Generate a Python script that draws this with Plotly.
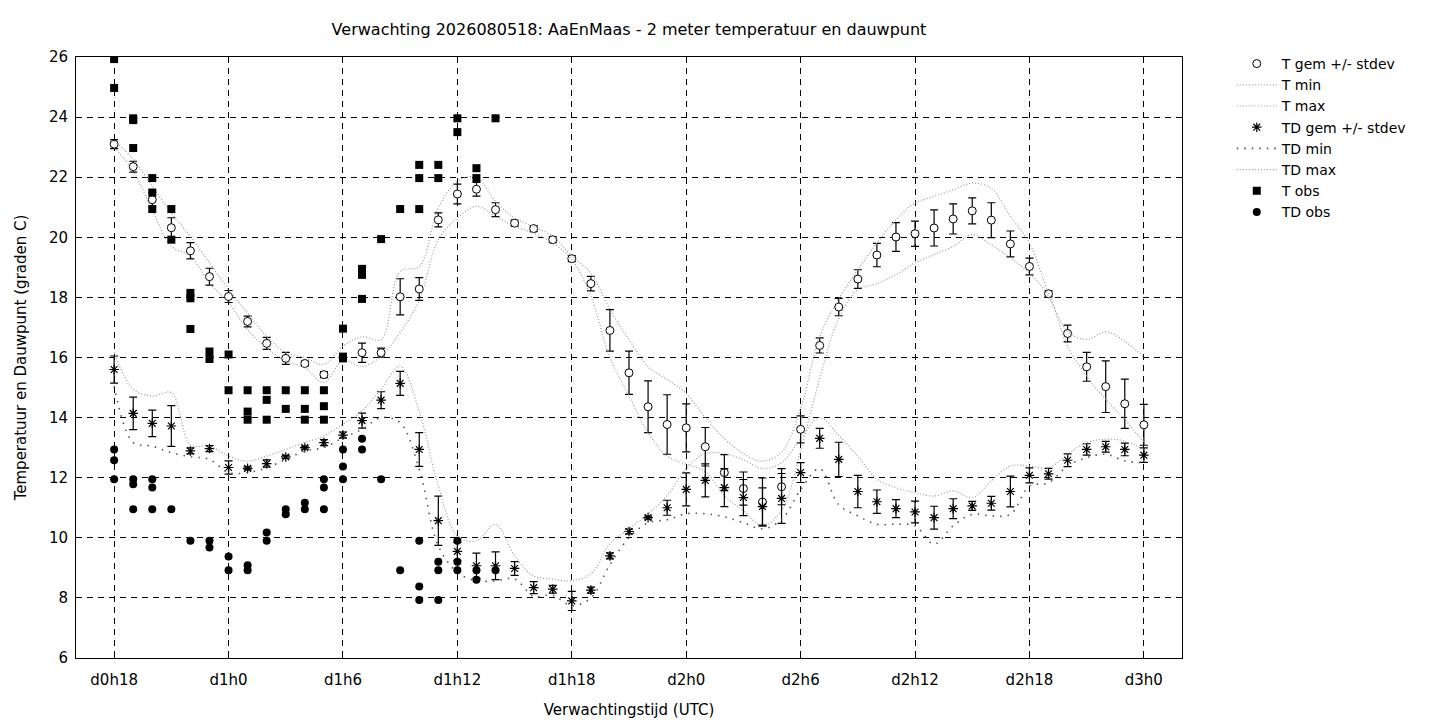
import plotly.graph_objects as go

# forecast hours since d0h0 (d0h18 .. d3h0)
hours = list(range(18, 73))
tick_hours = [18, 24, 30, 36, 42, 48, 54, 60, 66, 72]
tick_labels = ["d0h18", "d1h0", "d1h6", "d1h12", "d1h18",
               "d2h0", "d2h6", "d2h12", "d2h18", "d3h0"]

# ensemble temperature
t_mean = [23.1, 22.35, 21.25, 20.32, 19.55, 18.69, 18.03, 17.2, 16.47, 15.97, 15.8, 15.43,
          16.0, 16.16, 16.16, 18.02, 18.28, 20.58, 21.44, 21.6, 20.92, 20.47, 20.29, 19.92,
          19.29, 18.46, 16.9, 15.49, 14.36, 13.77, 13.66, 13.03, 12.17, 11.64, 11.19, 11.7,
          13.61, 16.4, 17.68, 18.61, 19.41, 20.01, 20.12, 20.31, 20.61, 20.88, 20.57, 19.78,
          19.03, 18.12, 16.8, 15.69, 15.03, 14.46, 13.76]
t_sd = [0.15, 0.18, 0.25, 0.33, 0.27, 0.28, 0.2, 0.18, 0.2, 0.2, 0.08, 0.1,
        0.1, 0.32, 0.15, 0.6, 0.38, 0.23, 0.33, 0.23, 0.23, 0.1, 0.1, 0.1,
        0.1, 0.24, 0.69, 0.72, 0.86, 0.99, 0.8, 0.64, 0.6, 0.55, 0.8, 0.6,
        0.45, 0.25, 0.29, 0.31, 0.39, 0.48, 0.42, 0.6, 0.5, 0.43, 0.58, 0.43,
        0.28, 0.1, 0.28, 0.48, 0.86, 0.82, 0.68]
t_min = [23.0, 22.2, 20.9, 19.7, 19.37, 18.48, 17.82, 16.93, 16.32, 15.88, 15.66, 15.17,
         15.9, 15.7, 16.04, 16.83, 17.9, 19.92, 20.64, 21.03, 20.7, 20.36, 20.14, 19.81,
         19.26, 18.04, 16.0, 14.72, 13.5, 12.72, 12.45, 12.2, 11.4, 10.9, 10.4, 10.9,
         12.9, 15.3, 17.3, 18.26, 18.46, 18.76, 19.15, 19.42, 19.7, 20.09, 19.75, 19.31,
         18.81, 18.04, 16.38, 15.38, 14.6, 13.94, 13.17]
t_max = [23.2, 22.6, 21.7, 20.81, 20.03, 19.15, 18.26, 17.48, 16.71, 16.16, 16.0, 15.77,
         16.38, 16.69, 16.6, 18.87, 19.03, 20.97, 21.86, 22.0, 21.2, 20.64, 20.36, 20.03,
         19.37, 18.8, 17.6, 16.6, 15.7, 15.27, 14.8, 14.0, 13.3, 12.8, 12.55, 12.85,
         14.3, 16.7, 17.95, 18.92, 19.81, 20.58, 21.14, 21.36, 21.58, 21.8, 21.63, 20.69,
         19.81, 18.15, 16.87, 16.6, 16.85, 16.54, 16.0]

# ensemble dew point
td_mean = [15.6, 14.14, 13.81, 13.72, 12.89, 12.97, 12.34, 12.31, 12.47, 12.69, 13.0, 13.17,
           13.42, 13.9, 14.58, 15.14, 12.94, 10.57, 9.55, 9.07, 9.07, 8.98, 8.34, 8.29,
           7.9, 8.26, 9.4, 10.21, 10.67, 11.0, 11.61, 11.91, 11.67, 11.34, 11.04, 11.31,
           12.17, 13.31, 12.61, 11.54, 11.2, 10.97, 10.86, 10.67, 10.97, 11.06, 11.15, 11.54,
           12.08, 12.13, 12.58, 12.94, 13.03, 12.94, 12.75]
td_sd = [0.45, 0.54, 0.44, 0.68, 0.1, 0.1, 0.22, 0.05, 0.12, 0.05, 0.05, 0.1,
         0.1, 0.25, 0.28, 0.4, 0.56, 0.82, 0.3, 0.42, 0.46, 0.23, 0.2, 0.13,
         0.32, 0.1, 0.1, 0.08, 0.05, 0.25, 0.55, 0.55, 0.63, 0.6, 0.62, 0.83,
         0.33, 0.33, 0.57, 0.54, 0.39, 0.3, 0.36, 0.38, 0.33, 0.15, 0.23, 0.51,
         0.25, 0.18, 0.21, 0.19, 0.18, 0.21, 0.24]
td_min = [15.05, 13.17, 13.05, 12.83, 12.7, 12.61, 12.17, 12.17, 12.33, 12.61, 12.89, 13.0,
          13.33, 13.61, 14.0, 13.83, 12.28, 9.73, 8.85, 8.57, 8.57, 8.63, 8.05, 8.09,
          7.74, 8.0, 9.1, 10.0, 10.5, 10.6, 10.8, 10.8, 10.7, 10.5, 10.3, 10.6,
          11.6, 12.3, 11.1, 10.73, 10.45, 10.45, 10.4, 9.79, 10.4, 10.78, 10.73, 10.78,
          11.72, 11.83, 12.39, 12.67, 12.78, 12.56, 12.5]
td_max = [16.17, 14.94, 14.72, 14.83, 13.1, 13.05, 12.72, 12.55, 12.72, 12.94, 13.17, 13.39,
          13.78, 14.22, 14.94, 15.71, 14.2, 11.72, 10.06, 9.9, 10.45, 9.4, 8.73, 8.62,
          8.57, 8.8, 9.8, 10.3, 10.8, 11.4, 12.3, 12.8, 12.8, 12.6, 12.3, 12.5,
          13.3, 14.0, 13.4, 12.72, 11.95, 11.67, 11.5, 11.39, 11.56, 11.34, 11.89, 12.39,
          12.39, 12.33, 12.78, 13.17, 13.28, 13.22, 12.94]

# observations, per hour (d0h18 .. d1h14)
obs_hours = list(range(18, 39))
t_obs = [[25.93, 24.97], [23.96, 23.9, 22.97], [21.97, 21.49, 20.94], [20.94, 19.92],
         [18.15, 17.97, 16.95], [16.2, 15.95], [16.1, 14.91], [14.91, 14.2, 13.93],
         [14.91, 14.59, 13.93], [14.91, 14.29], [14.91, 14.29, 13.93], [14.91, 14.38, 13.93],
         [16.96, 16.03, 15.97], [18.95, 18.75, 17.95], [19.94], [20.94],
         [22.41, 21.97, 20.94], [22.41, 21.97], [23.96, 23.5], [22.3, 21.97], [23.96]]
td_obs = [[12.94, 12.58, 11.95], [11.95, 11.78, 10.95], [11.95, 11.67, 10.95], [10.95],
          [9.9], [9.9, 9.68], [9.38, 8.92], [9.09, 8.92], [10.18, 9.9], [10.95, 10.78],
          [11.17, 10.95], [11.95, 11.67, 10.95], [12.94, 12.37, 11.95], [13.3, 12.94],
          [11.95], [8.92], [9.9, 8.38, 7.93], [9.2, 8.92, 7.93], [9.9, 9.2, 8.92],
          [8.92, 8.6], [8.92]]


def flat(hrs, vals):
    xs, ys = [], []
    for h, vs in zip(hrs, vals):
        for v in vs:
            xs.append(h)
            ys.append(v)
    return xs, ys


FONT = "DejaVu Sans"
LIGHT = "#9a9a9a"

fig = go.Figure()
err = dict(type="data", visible=True, thickness=1.2, width=4, color="black")
fine_dot = dict(color=LIGHT, width=1.2, dash="1px,2px", shape="spline")

fig.add_trace(go.Scatter(
    x=hours, y=t_mean, mode="markers", name="T gem +/- stdev",
    marker=dict(symbol="circle", size=8, color="white",
                line=dict(color="black", width=1)),
    error_y=dict(array=t_sd, **err)))
fig.add_trace(go.Scatter(x=hours, y=t_min, mode="lines", name="T min", line=fine_dot))
fig.add_trace(go.Scatter(x=hours, y=t_max, mode="lines", name="T max", line=fine_dot))
fig.add_trace(go.Scatter(
    x=hours, y=td_mean, mode="markers", name="TD gem +/- stdev",
    marker=dict(symbol="asterisk-open", size=8, color="black",
                line=dict(color="black", width=1.2)),
    error_y=dict(array=td_sd, **err)))
fig.add_trace(go.Scatter(x=hours, y=td_min, mode="lines", name="TD min",
                         line=dict(color="#555555", width=1.6, dash="1.5px,6px",
                                   shape="spline")))
fig.add_trace(go.Scatter(x=hours, y=td_max, mode="lines", name="TD max", line=fine_dot))

tx, ty = flat(obs_hours, t_obs)
fig.add_trace(go.Scatter(x=tx, y=ty, mode="markers", name="T obs",
                         marker=dict(symbol="square", size=8, color="black")))
dx, dy = flat(obs_hours, td_obs)
fig.add_trace(go.Scatter(x=dx, y=dy, mode="markers", name="TD obs",
                         marker=dict(symbol="circle", size=8, color="black")))

axis = dict(showline=True, linecolor="black", linewidth=1, mirror="allticks",
            ticks="inside", ticklen=6, tickcolor="black", showgrid=True,
            gridcolor="black", gridwidth=1, griddash="6px,5px", zeroline=False,
            tickfont=dict(family=FONT, size=15, color="black"))
fig.update_xaxes(range=[16, 74], tickvals=tick_hours, ticktext=tick_labels,
                 ticklabelstandoff=8,
                 title=dict(text="Verwachtingstijd (UTC)", standoff=16,
                            font=dict(family=FONT, size=15, color="black")),
                 **axis)
fig.update_yaxes(range=[6, 26], dtick=2, ticklabelstandoff=4,
                 title=dict(text="Temperatuur en Dauwpunt (graden C)", standoff=18,
                            font=dict(family=FONT, size=15, color="black")),
                 **axis)

fig.update_layout(
    width=1440, height=720,
    margin=dict(l=66, r=266, t=49, b=69),
    plot_bgcolor="white", paper_bgcolor="white",
    font=dict(family=FONT, size=15, color="black"),
    title=dict(text="Verwachting 2026080518: AaEnMaas - 2 meter temperatuur en dauwpunt",
               x=0.5, xref="paper", xanchor="center",
               y=1 - 21 / 720, yref="container", yanchor="middle",
               font=dict(family=FONT, size=16, color="black")),
    legend=dict(x=1.045, y=1.015, xanchor="left", yanchor="top",
                bgcolor="rgba(0,0,0,0)", tracegroupgap=0, itemwidth=40,
                font=dict(family=FONT, size=14, color="black")),
)

fig.write_html("out.html")
